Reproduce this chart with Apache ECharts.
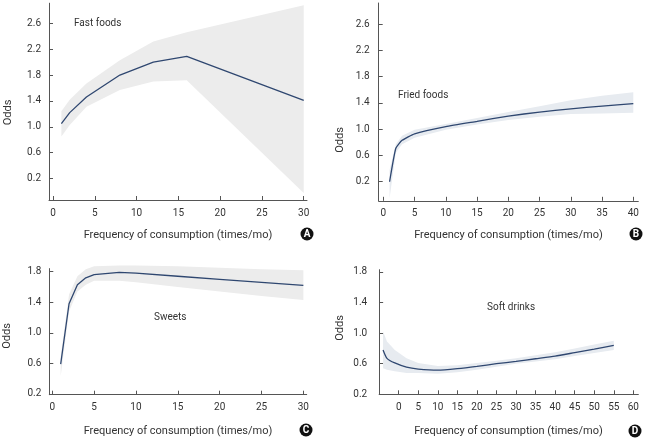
<!DOCTYPE html>
<html><head><meta charset="utf-8">
<script src="https://cdn.jsdelivr.net/npm/echarts@6/dist/echarts.min.js"></script>
<style>html,body{margin:0;padding:0;background:#fff}#c{width:647px;height:440px}</style>
</head><body><div id="c"></div>
<script>
// ---- Data ----
const fastX     = [1, 2, 4, 8, 12, 16, 30];
const fastOdds  = [1.05, 1.22, 1.46, 1.80, 2.00, 2.09, 1.41];
const fastUpper = [1.24, 1.42, 1.67, 2.03, 2.32, 2.46, 2.88];
const fastLower = [0.85, 1.03, 1.31, 1.57, 1.70, 1.72, -0.02];

const friedX     = [1, 2, 3, 5, 10, 15, 20, 25, 30, 35, 40];
const friedOdds  = [0.20, 0.71, 0.83, 0.93, 1.04, 1.12, 1.20, 1.26, 1.31, 1.35, 1.39];
const friedUpper = [0.38, 0.77, 0.90, 0.99, 1.08, 1.17, 1.26, 1.35, 1.44, 1.51, 1.56];
const friedLower = [-0.05, 0.64, 0.77, 0.87, 0.99, 1.07, 1.14, 1.19, 1.23, 1.24, 1.25];

const sweetsX     = [1, 2, 3, 4, 5, 8, 10, 15, 20, 25, 30];
const sweetsOdds  = [0.59, 1.38, 1.63, 1.72, 1.76, 1.79, 1.78, 1.74, 1.70, 1.66, 1.62];
const sweetsUpper = [0.69, 1.50, 1.74, 1.83, 1.87, 1.88, 1.88, 1.87, 1.85, 1.83, 1.82];
const sweetsLower = [0.43, 1.28, 1.54, 1.63, 1.68, 1.68, 1.66, 1.60, 1.54, 1.48, 1.43];

const softX     = [-4, -3, -1, 2, 5, 10, 15, 20, 25, 30, 35, 40, 45, 50, 55];
const softOdds  = [0.78, 0.67, 0.61, 0.555, 0.53, 0.515, 0.535, 0.565, 0.60, 0.63, 0.665, 0.70, 0.745, 0.79, 0.84];
const softUpper = [1.02, 0.89, 0.78, 0.67, 0.61, 0.57, 0.58, 0.61, 0.64, 0.67, 0.71, 0.75, 0.80, 0.85, 0.90];
const softLower = [0.54, 0.52, 0.50, 0.48, 0.48, 0.47, 0.49, 0.52, 0.56, 0.60, 0.63, 0.66, 0.70, 0.74, 0.78];

// tick labels
const xTicks30 = [0, 5, 10, 15, 20, 25, 30];
const xTicks40 = [0, 5, 10, 15, 20, 25, 30, 35, 40];
const xTicks60 = [0, 5, 10, 15, 20, 25, 30, 35, 40, 45, 50, 55, 60];
const yTicksTop = [0.2, 0.6, 1.0, 1.4, 1.8, 2.2, 2.6];
const yTicksBottom = [0.2, 0.6, 1.0, 1.4, 1.8];

const panelNames = ['Fast foods', 'Fried foods', 'Sweets', 'Soft drinks'];
const panelLetters = ['A', 'B', 'C', 'D'];
const xTitle = 'Frequency of consumption (times/mo)';
const yTitle = 'Odds';

// ---- Styles ----
const FONT = 'Roboto';
const AXIS_COLOR = '#555';
const LINE_COLOR = '#2f4770';

const grids = [
  {left: 49, top: 3.2, width: 258, height: 196.8},
  {left: 378.7, top: 3, width: 259.6, height: 197.8},
  {left: 49.3, top: 268.6, width: 257.4, height: 126.1},
  {left: 379.15, top: 269.7, width: 259.2, height: 124.6}
];
const xRanges = [[-0.48, 30.39], [-0.74, 40.8], [-0.36, 30.4], [-5, 61.28]];
const yRanges = [[-0.13, 2.91], [-0.09, 2.92], [0.19, 1.84], [0.2, 1.83]];
const xTickSets = [xTicks30, xTicks40, xTicks30, xTicks60];
const yTickSets = [yTicksTop, yTicksTop, yTicksBottom, yTicksBottom];
const labelMargins = [8, 9, 8, 12];
const bandColors = ['#ececec', '#e7ebf0', '#ececec', '#e7ebf0'];

const xs = [fastX, friedX, sweetsX, softX];
const odds = [fastOdds, friedOdds, sweetsOdds, softOdds];
const ups = [fastUpper, friedUpper, sweetsUpper, softUpper];
const los = [fastLower, friedLower, sweetsLower, softLower];
const smooths = [false, 0.15, false, 0.2];

function xAxis(i) {
  return {
    type: 'value', gridIndex: i, min: xRanges[i][0], max: xRanges[i][1],
    splitLine: {show: false},
    axisLine: {show: true, onZero: false, lineStyle: {color: AXIS_COLOR, width: 1}},
    axisTick: {show: true, inside: true, length: 4, customValues: xTickSets[i], lineStyle: {color: AXIS_COLOR}},
    axisLabel: {customValues: xTickSets[i], margin: 8, color: '#333', fontSize: 10, fontFamily: FONT,
      formatter: v => String(v)}
  };
}
function yAxis(i) {
  return {
    type: 'value', gridIndex: i, min: yRanges[i][0], max: yRanges[i][1],
    splitLine: {show: false},
    axisLine: {show: true, onZero: false, lineStyle: {color: AXIS_COLOR, width: 1}},
    axisTick: {show: true, inside: true, length: 4, customValues: yTickSets[i], lineStyle: {color: AXIS_COLOR}},
    axisLabel: {customValues: yTickSets[i], margin: labelMargins[i], color: '#333', fontSize: 10, fontFamily: FONT,
      formatter: v => v.toFixed(1)}
  };
}
function band(i) {
  const X = xs[i], U = ups[i], L = los[i];
  return {
    type: 'custom', xAxisIndex: i, yAxisIndex: i, silent: true, clip: false, z: 1,
    data: [[X[0], U[0]]],
    renderItem: (params, api) => {
      const top = X.map((x, k) => api.coord([x, U[k]]));
      const bot = X.map((x, k) => api.coord([x, L[k]])).reverse();
      return {type: 'polygon', shape: {points: top.concat(bot)}, style: {fill: bandColors[i]}};
    }
  };
}
function line(i) {
  return {
    type: 'line', xAxisIndex: i, yAxisIndex: i, z: 3, silent: true,
    data: xs[i].map((x, k) => [x, odds[i][k]]),
    showSymbol: false, smooth: smooths[i], animation: false,
    lineStyle: {color: LINE_COLOR, width: 1.3}
  };
}

const labelPos = [[74, 23], [398, 95], [154, 317], [487, 307]];
const xTitlePos = [[178, 235], [508.5, 235], [178, 431.5], [508.5, 431.5]];
const yTitlePos = [[8, 112.5], [340, 140], [7, 336], [340, 328]];
const circlePos = [[307, 234], [636, 234], [306, 430], [635, 431]];

const graphics = [];
for (let i = 0; i < 4; i++) {
  graphics.push({type: 'text', x: labelPos[i][0], y: labelPos[i][1],
    style: {text: panelNames[i], fill: '#333', fontSize: 10, fontFamily: FONT, textVerticalAlign: 'middle'}});
  graphics.push({type: 'text', x: xTitlePos[i][0], y: xTitlePos[i][1],
    style: {text: xTitle, fill: '#333', fontSize: 11, fontFamily: FONT, textAlign: 'center', textVerticalAlign: 'middle'}});
  graphics.push({type: 'text', x: yTitlePos[i][0], y: yTitlePos[i][1], rotation: Math.PI / 2,
    style: {text: yTitle, fill: '#333', fontSize: 11, fontFamily: FONT, textAlign: 'center', textVerticalAlign: 'middle'}});
  graphics.push({type: 'circle', shape: {cx: circlePos[i][0], cy: circlePos[i][1], r: 6.5}, style: {fill: '#111'}});
  graphics.push({type: 'text', x: circlePos[i][0], y: circlePos[i][1] + 0.5,
    style: {text: panelLetters[i], fill: '#fff', fontSize: 10, fontWeight: 'bold', fontFamily: FONT, textAlign: 'center', textVerticalAlign: 'middle'}});
}

const chart = echarts.init(document.getElementById('c'), null, {renderer: 'canvas'});
chart.setOption({
  animation: false,
  backgroundColor: '#fff',
  grid: grids,
  xAxis: [0, 1, 2, 3].map(xAxis),
  yAxis: [0, 1, 2, 3].map(yAxis),
  series: [0, 1, 2, 3].map(band).concat([0, 1, 2, 3].map(line)),
  graphic: graphics
});
</script></body></html>
